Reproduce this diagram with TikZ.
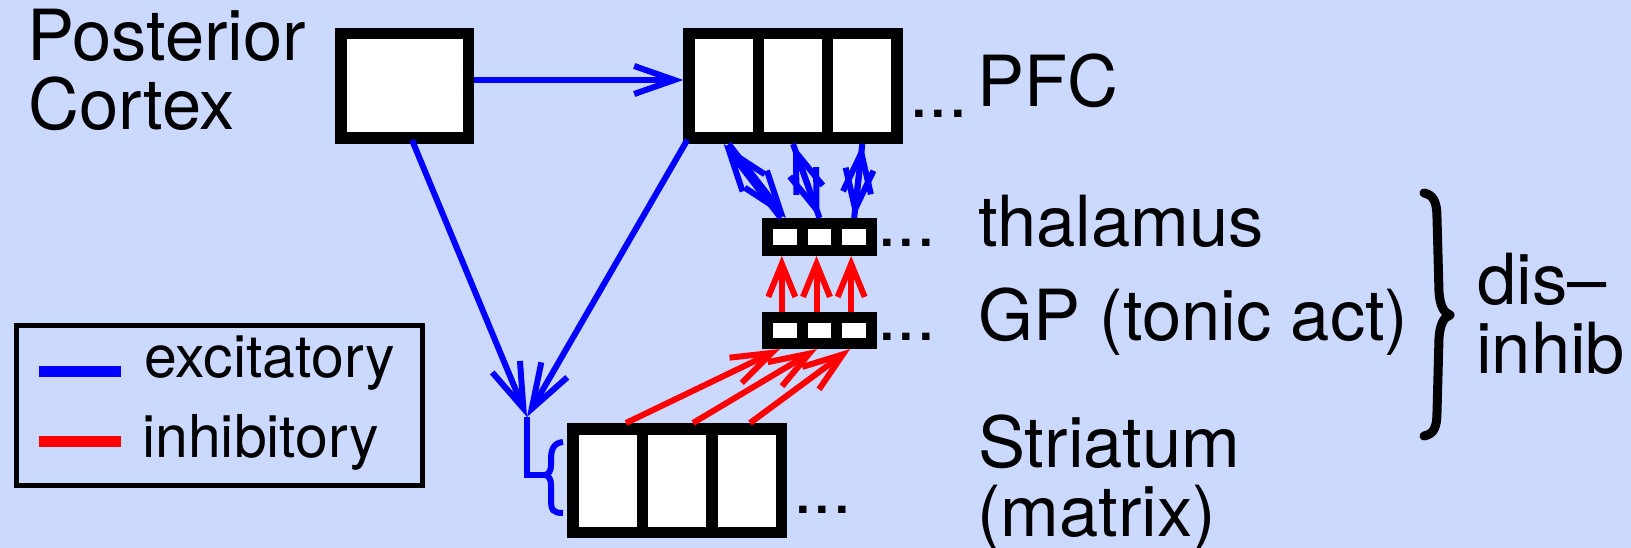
\documentclass[tikz,border=0pt]{standalone}
\usepackage{fontspec}
\setmainfont{TeX Gyre Heros}
\usetikzlibrary{arrows.meta}
\definecolor{bgc}{RGB}{204,217,255}
\begin{document}
\begin{tikzpicture}[x=1pt,y=-1pt,
  cell/.style={draw=black,fill=white,line width=11.5pt,inner sep=0pt},
  bigcell/.style={cell,minimum width=69.33pt,minimum height=104.5pt},
  smallcell/.style={cell,line width=11pt,minimum width=34.67pt,minimum height=27pt},
  lbl/.style={font=\fontsize{70.5}{72}\selectfont,inner sep=0pt,anchor=base west},
  leglbl/.style={lbl,font=\fontsize{59}{61}\selectfont},
  exc/.style={draw=blue,line width=6pt,-{Straight Barb[length=40pt,width=28pt]}},
  inh/.style={draw=red,line width=6pt,-{Straight Barb[length=40pt,width=28pt]}},
  shortinh/.style={inh,-{Straight Barb[length=33pt,width=27pt]}},
  longexc/.style={exc,-{Straight Barb[length=45pt,width=30pt]}},
  bracestyle/.style={line width=9pt,line cap=round,line join=round}
]
\useasboundingbox (0,0) rectangle (1631,548);
\fill[bgc] (0,0) rectangle (1631,548);

% boxes
\node[bigcell,minimum width=127.5pt] (post) at (404.5,86) {};
\node[bigcell] (pfc1) at (723.67,86) {};
\node[bigcell] (pfc2) at (793,86) {};
\node[bigcell] (pfc3) at (862.33,86) {};
\node[smallcell] (th1) at (784.83,237) {};
\node[smallcell] (th2) at (819.5,237) {};
\node[smallcell] (th3) at (854.17,237) {};
\node[smallcell,minimum height=26pt] (gp1) at (784.83,330.5) {};
\node[smallcell,minimum height=26pt] (gp2) at (819.5,330.5) {};
\node[smallcell,minimum height=26pt] (gp3) at (854.17,330.5) {};
\node[bigcell,minimum width=69.5pt,minimum height=103.5pt] (st1) at (607.5,480.5) {};
\node[bigcell,minimum width=69.5pt,minimum height=103.5pt] (st2) at (677,480.5) {};
\node[bigcell,minimum width=69.5pt,minimum height=103.5pt] (st3) at (746.5,480.5) {};

% labels
\node[lbl] (tPost) at (27,61) {Posterior};
\node[lbl] (tCortex) at (28,130) {Cortex};
\node[lbl] (tPFC) at (977,107) {PFC};
\node[lbl] (dPFC) at (909,118) {...};
\node[lbl] (tTh) at (978,247) {thalamus};
\node[lbl] (dTh) at (877,247) {...};
\node[lbl] (tGP) at (978,340) {GP (tonic act)};
\node[lbl] (dGP) at (877,340) {...};
\node[lbl] (tSt) at (978,467) {Striatum};
\node[lbl] (tMat) at (977,536) {(matrix)};
\node[lbl] (dSt) at (793,513) {...};
\node[lbl] (tDis) at (1477,305) {dis–};
\node[lbl] (tInh) at (1476,373) {inhib};

% legend
\node[draw=black,line width=5pt,minimum width=406pt,minimum height=160pt,inner sep=0pt] (legend) at (219,405) {};
\coordinate (le1) at (39,371);
\coordinate (le2) at (121,371);
\coordinate (li1) at (39,441);
\coordinate (li2) at (121,441);
\draw[blue,line width=11pt] (le1) -- (le2);
\draw[red,line width=11pt] (li1) -- (li2);
\node[leglbl] (tExc) at (144,377) {excitatory};
\node[leglbl] (tInhL) at (142,457) {inhibitory};

% excitatory connectors
\draw[exc] ([yshift=6pt]post.east) -- ([yshift=6pt]pfc1.west);
\coordinate (conv) at (527,417);
\draw[longexc] ([xshift=7.5pt,yshift=4pt]post.south) -- (conv);
\draw[longexc] ([xshift=4pt,yshift=4pt]pfc1.south west) -- (conv);
\coordinate (sb) at (545,475);
\draw[blue,line width=6pt] (conv) |- (sb);
\draw[blue,line width=6pt] (563,442) .. controls (553,443) and (551,450) .. (551,460) -- (551,465) .. controls (551,471) and (549,474) .. (sb) .. controls (549,476) and (551,479) .. (551,485) -- (551,500) .. controls (551,510) and (553,513) .. (563,513);

\draw[exc] ([xshift=5pt]pfc1.south) -- ([xshift=1pt]th1.north);
\draw[exc] ([xshift=-4pt]th1.north) -- (pfc1.south);
\draw[exc] (pfc2.south) -- (th2.north);
\draw[exc] (th2.north) -- (pfc2.south);
\draw[exc] (pfc3.south) -- (th3.north);
\draw[exc] (th3.north) -- (pfc3.south);

% inhibitory connectors
\draw[shortinh] ([xshift=-3pt]gp1.north) -- ([xshift=-3pt]th1.south);
\draw[shortinh] ([xshift=-3pt]gp2.north) -- ([xshift=-3pt]th2.south);
\draw[shortinh] ([xshift=-3pt]gp3.north) -- ([xshift=-3pt]th3.south);
\draw[inh] ([xshift=18.5pt]st1.north) -- ([xshift=-5pt]gp1.south);
\draw[inh] ([xshift=16pt]st2.north) -- ([xshift=-2.5pt]gp2.south);
\draw[inh] ([xshift=3.5pt]st3.north) -- ([xshift=-4pt]gp3.south);

% big brace
\draw[bracestyle] (1424,193) .. controls (1434,195) and (1437,203) .. (1437,218) -- (1439,292) .. controls (1440,306) and (1444,313) .. (1450,315) .. controls (1444,317) and (1440,324) .. (1439,338) -- (1437,412) .. controls (1437,427) and (1434,434) .. (1424,436);
\end{tikzpicture}
\end{document}
